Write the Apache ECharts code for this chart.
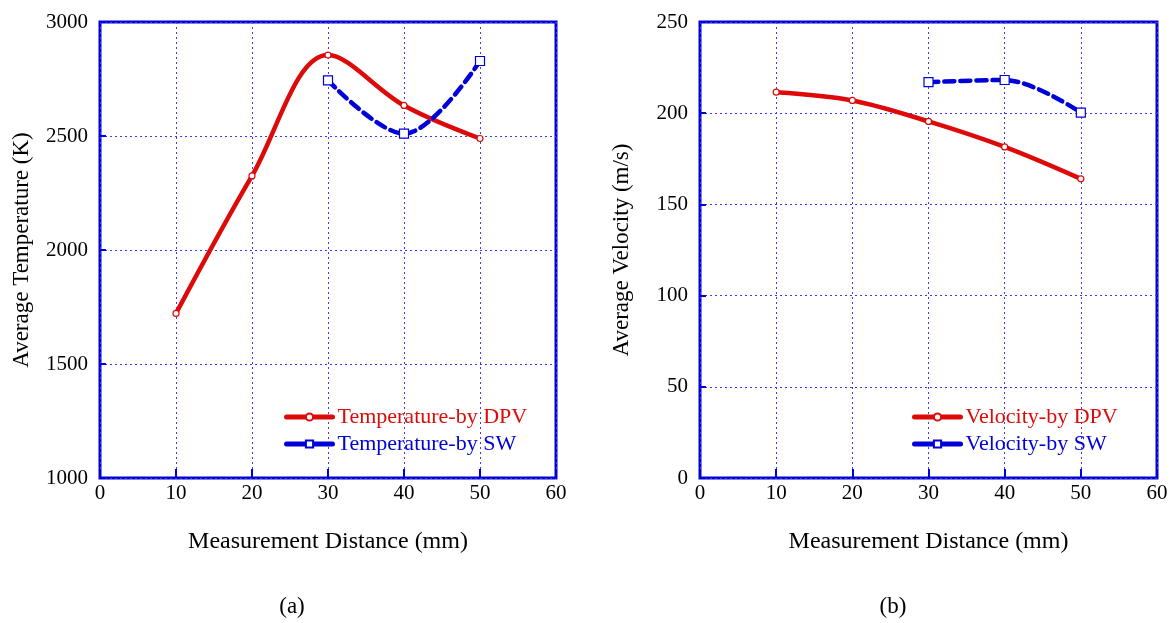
<!DOCTYPE html>
<html><head><meta charset="utf-8">
<script src="https://cdn.jsdelivr.net/npm/echarts@6/dist/echarts.min.js"></script>
<style>html,body{margin:0;padding:0;background:#fff}#c{width:1175px;height:623px}</style>
</head><body><div id="c"></div>
<script>
const distance = [10, 20, 30, 40, 50];
const distanceSW = [30, 40, 50];
const tempDPV = [1722, 2325, 2855, 2634, 2489];
const tempSW = [2744, 2510, 2829];
const velDPV = [211.5, 207, 195.5, 181.5, 164];
const velSW = [217, 218.2, 200.3];

const RED = '#dd0a0a', BLUE = '#0000d8', GRIDC = '#3a3aff';
const FONT = '"Liberation Serif", "Times New Roman", serif';
const pairs = (xs, ys) => xs.map((x, i) => [x, ys[i]]);

function xAx(gi) {
  return {
    gridIndex: gi, type: 'value', min: 0, max: 60, interval: 10,
    name: 'Measurement Distance (mm)', nameLocation: 'middle', nameGap: 52,
    nameTextStyle: { fontFamily: FONT, fontSize: 24, color: '#000' },
    axisLine: { show: false },
    axisTick: { inside: true, length: 9, lineStyle: { color: BLUE, width: 2 } },
    axisLabel: { fontFamily: FONT, fontSize: 21, color: '#000', margin: 5 },
    splitLine: { show: true, lineStyle: { color: GRIDC, type: [2, 3], width: 1 } }
  };
}
function yAx(gi, min, max, interval, name) {
  return {
    gridIndex: gi, type: 'value', min, max, interval,
    name, nameLocation: 'middle', nameGap: 67, nameRotate: 90,
    nameTextStyle: { fontFamily: FONT, fontSize: 23, color: '#000' },
    axisLine: { show: false },
    axisTick: { inside: true, length: 6, lineStyle: { color: BLUE, width: 2 } },
    axisLabel: { fontFamily: FONT, fontSize: 21, color: '#000', margin: 12,
                 formatter: v => String(v) },
    splitLine: { show: true, lineStyle: { color: GRIDC, type: [2, 3], width: 1 } }
  };
}
function ser(name, gi, data, color, dashed, symbol, size) {
  return {
    name, type: 'line', xAxisIndex: gi, yAxisIndex: gi, data,
    smooth: 0.35, symbol, symbolSize: size, showSymbol: true,
    lineStyle: { color, width: 4.5, type: dashed ? [10, 6] : 'solid', cap: 'round' },
    itemStyle: { color: '#fff', borderColor: color, borderWidth: 1.2 },
    emphasis: { disabled: true }, z: dashed ? 3 : 2
  };
}
function leg(left, names) {
  return {
    orient: 'vertical', left, top: 401, itemWidth: 46, itemHeight: 9, itemGap: 5,
    textStyle: { fontFamily: FONT, fontSize: 22 },
    lineStyle: { width: 5, type: 'solid' },
    data: [{ name: names[0], textStyle: { color: RED } },
           { name: names[1], textStyle: { color: BLUE } }]
  };
}

const chart = echarts.init(document.getElementById('c'), null, { renderer: 'canvas' });
chart.setOption({
  animation: false,
  backgroundColor: '#fff',
  grid: [
    { left: 100, right: 619, top: 22, bottom: 145, show: true, borderColor: '#0000d0', borderWidth: 3, backgroundColor: 'transparent' },
    { left: 700, right: 18, top: 22, bottom: 145, show: true, borderColor: '#0000d0', borderWidth: 3, backgroundColor: 'transparent' }
  ],
  xAxis: [xAx(0), xAx(1)],
  yAxis: [
    yAx(0, 1000, 3000, 500, 'Average Temperature (K)'),
    yAx(1, 0, 250, 50, 'Average Velocity (m/s)')
  ],
  legend: [
    leg(279, ['Temperature-by DPV', 'Temperature-by SW']),
    leg(907, ['Velocity-by DPV', 'Velocity-by SW'])
  ],
  title: [
    { text: '(a)', left: 287, top: 590, textAlign: 'center', textStyle: { fontFamily: FONT, fontSize: 23, fontWeight: 'normal', color: '#000' } },
    { text: '(b)', left: 888, top: 590, textAlign: 'center', textStyle: { fontFamily: FONT, fontSize: 23, fontWeight: 'normal', color: '#000' } }
  ],
  series: [
    ser('Temperature-by DPV', 0, pairs(distance, tempDPV), RED, false, 'circle', 6),
    ser('Temperature-by SW', 0, pairs(distanceSW, tempSW), BLUE, true, 'rect', 9),
    ser('Velocity-by DPV', 1, pairs(distance, velDPV), RED, false, 'circle', 6),
    ser('Velocity-by SW', 1, pairs(distanceSW, velSW), BLUE, true, 'rect', 9)
  ]
});
</script></body></html>
